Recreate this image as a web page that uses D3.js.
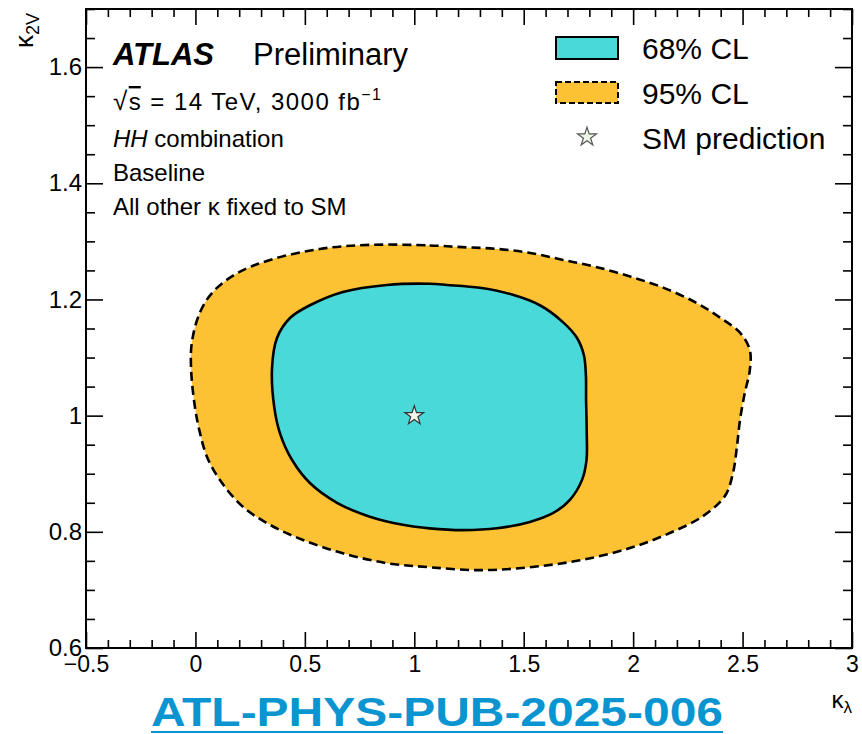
<!DOCTYPE html>
<html lang="en">
<head>
<meta charset="UTF-8">
<title>kappa2V vs kappa lambda</title>
<script src="https://d3js.org/d3.v7.min.js"></script>
<style>
  body { margin: 0; background: #fff; }
  svg { display: block; font-family: "Liberation Sans", Arial, Helvetica, sans-serif; }
  .tick text { font-family: "Liberation Sans", Arial, Helvetica, sans-serif; fill: #000; }
</style>
</head>
<body>
<div id="chart"></div>
<script>
// values
var xTicks = [-0.5, 0, 0.5, 1, 1.5, 2, 2.5, 3]
var xTickLabels = ['\u22120.5', '0', '0.5', '1', '1.5', '2', '2.5', '3']
var yTicks = [0.6, 0.8, 1, 1.2, 1.4, 1.6]
var yTickLabels = ['0.6', '0.8', '1', '1.2', '1.4', '1.6']

// 68% CL contour (kappa_lambda, kappa_2V)
var cl68 = [[0.875, 1.225], [1.07, 1.227], [1.15, 1.225], [1.30, 1.220], [1.45, 1.208], [1.574, 1.190],
  [1.679, 1.161], [1.743, 1.134], [1.775, 1.104], [1.784, 1.070], [1.785, 1.027], [1.788, 0.970],
  [1.787, 0.924], [1.766, 0.889], [1.711, 0.855], [1.633, 0.832], [1.528, 0.817], [1.378, 0.806],
  [1.222, 0.803], [1.07, 0.806], [0.948, 0.812], [0.797, 0.826], [0.647, 0.850], [0.523, 0.884],
  [0.441, 0.924], [0.386, 0.970], [0.36, 1.015], [0.35, 1.082], [0.373, 1.134], [0.432, 1.168],
  [0.523, 1.190], [0.674, 1.213]]

// 95% CL contour
var cl95 = [[0.797, 1.294], [1.07, 1.293], [1.22, 1.290], [1.38, 1.287], [1.53, 1.280], [1.68, 1.268],
  [1.83, 1.256], [1.99, 1.239], [2.14, 1.220], [2.29, 1.194], [2.40, 1.168], [2.49, 1.142],
  [2.533, 1.113], [2.533, 1.078], [2.51, 1.039], [2.488, 0.992], [2.474, 0.946], [2.456, 0.901],
  [2.42, 0.862], [2.319, 0.827], [2.168, 0.798], [1.985, 0.772], [1.757, 0.751], [1.528, 0.739],
  [1.30, 0.734], [1.07, 0.739], [0.875, 0.746], [0.674, 0.763], [0.491, 0.786], [0.341, 0.812],
  [0.217, 0.843], [0.112, 0.889], [0.053, 0.929], [0.021, 0.970], [-0.002, 1.014], [-0.02, 1.082],
  [-0.016, 1.127], [0.021, 1.178], [0.080, 1.213], [0.190, 1.245], [0.341, 1.268], [0.569, 1.287]]

var smPoint = [1, 1]
var legendLabels = ['68% CL', '95% CL', 'SM prediction']
var infoLines = ['HH combination', 'Baseline', 'All other \u03ba fixed to SM']

var cyan = '#4ad9d9', orange = '#fdc233'
var W = 862, H = 734
var pL = 86, pR = 852, pT = 9, pB = 648

var svg = d3.select('#chart').append('svg')
  .attr('width', W)
  .attr('height', H)

var x = d3.scaleLinear().domain([-0.5, 3]).range([pL, pR])
var y = d3.scaleLinear().domain([0.6, 1.7]).range([pB, pT])

var line = d3.line()
  .x(d => x(d[0]))
  .y(d => y(d[1]))
  .curve(d3.curveCatmullRomClosed.alpha(0.5))

// contours
svg.append('path')
  .attr('d', line(cl95))
  .attr('fill', orange)
  .attr('stroke', '#000')
  .attr('stroke-width', 2.6)
  .attr('stroke-dasharray', '9,5')

svg.append('path')
  .attr('d', line(cl68))
  .attr('fill', cyan)
  .attr('stroke', '#000')
  .attr('stroke-width', 2.6)

var star = d3.symbol().type(d3.symbolStar).size(110)

svg.append('path')
  .attr('d', star())
  .attr('transform', 'translate(' + x(smPoint[0]) + ',' + y(smPoint[1]) + ')')
  .attr('fill', '#f3f5ec')
  .attr('stroke', '#333')
  .attr('stroke-width', 1.2)

// minor ticks
var xMinor = d3.range(-0.5, 3.0001, 0.1).filter(v => Math.abs(v * 2 - Math.round(v * 2)) > 1e-6)
var yMinor = d3.range(0.6, 1.7001, 0.05).filter(v => Math.abs(v * 5 - Math.round(v * 5)) > 1e-6)

function clean(g) {
  g.select('.domain').remove()
  g.selectAll('line').attr('stroke', '#000').attr('stroke-width', 1.6)
}

svg.append('g').attr('transform', 'translate(0,' + pB + ')')
  .call(d3.axisBottom(x).tickValues(xTicks).tickSize(-16).tickPadding(8)
    .tickFormat((d, i) => xTickLabels[i]))
  .call(clean)
  .selectAll('text').attr('font-size', 23)

svg.append('g').attr('transform', 'translate(0,' + pB + ')')
  .call(d3.axisBottom(x).tickValues(xMinor).tickSize(-8).tickFormat(''))
  .call(clean)

svg.append('g').attr('transform', 'translate(0,' + pT + ')')
  .call(d3.axisTop(x).tickValues(xTicks).tickSize(-16).tickFormat(''))
  .call(clean)

svg.append('g').attr('transform', 'translate(0,' + pT + ')')
  .call(d3.axisTop(x).tickValues(xMinor).tickSize(-8).tickFormat(''))
  .call(clean)

svg.append('g').attr('transform', 'translate(' + pL + ',0)')
  .call(d3.axisLeft(y).tickValues(yTicks).tickSize(-17).tickPadding(4)
    .tickFormat((d, i) => yTickLabels[i]))
  .call(clean)
  .selectAll('text').attr('font-size', 24)

svg.append('g').attr('transform', 'translate(' + pL + ',0)')
  .call(d3.axisLeft(y).tickValues(yMinor).tickSize(-9).tickFormat(''))
  .call(clean)

svg.append('g').attr('transform', 'translate(' + pR + ',0)')
  .call(d3.axisRight(y).tickValues(yTicks).tickSize(-17).tickFormat(''))
  .call(clean)

svg.append('g').attr('transform', 'translate(' + pR + ',0)')
  .call(d3.axisRight(y).tickValues(yMinor).tickSize(-9).tickFormat(''))
  .call(clean)

// frame
svg.append('rect')
  .attr('x', pL).attr('y', pT)
  .attr('width', pR - pL).attr('height', pB - pT)
  .attr('fill', 'none')
  .attr('stroke', '#000')
  .attr('stroke-width', 2)

// axis titles
var yt = svg.append('text')
  .attr('transform', 'translate(33,13) rotate(-90)')
  .attr('text-anchor', 'end')
  .attr('font-size', 26)
yt.append('tspan').text('\u03ba')
yt.append('tspan').attr('font-size', 18).attr('dy', 6).text('2V')

var xt = svg.append('text')
  .attr('x', 852).attr('y', 708)
  .attr('text-anchor', 'end')
  .attr('font-size', 24)
xt.append('tspan').text('\u03ba')
xt.append('tspan').attr('font-size', 17).attr('dy', 5).text('\u03bb')

// ATLAS label
svg.append('text')
  .attr('x', 113).attr('y', 65)
  .attr('font-size', 31)
  .attr('font-weight', 'bold')
  .attr('font-style', 'italic')
  .text('ATLAS')

svg.append('text')
  .attr('x', 253).attr('y', 65)
  .attr('font-size', 31)
  .text('Preliminary')

var rs = svg.append('text')
  .attr('x', 113).attr('y', 110)
  .attr('font-size', 24)
  .attr('textLength', 268)
  .attr('lengthAdjust', 'spacing')
rs.append('tspan').attr('font-size', 26).text('\u221a')
rs.append('tspan').style('text-decoration', 'overline').text('s')
rs.append('tspan').text(' = 14 TeV, 3000 fb')
rs.append('tspan').attr('font-size', 16).attr('dy', -10).text('\u22121')

svg.selectAll('.info')
  .data(infoLines)
  .enter()
  .append('text')
  .attr('class', 'info')
  .attr('x', 113)
  .attr('y', (d, i) => 147 + i * 34)
  .attr('font-size', 24)
  .each(function (d, i) {
    var t = d3.select(this)
    if (i === 0) {
      t.append('tspan').attr('font-style', 'italic').text('HH')
      t.append('tspan').text(' combination')
    } else {
      t.text(d)
    }
  })

// legend
var lg = svg.append('g')
lg.append('rect')
  .attr('x', 556).attr('y', 37).attr('width', 62).attr('height', 22)
  .attr('fill', cyan).attr('stroke', '#000').attr('stroke-width', 2)
lg.append('rect')
  .attr('x', 556).attr('y', 82).attr('width', 62).attr('height', 21)
  .attr('fill', orange).attr('stroke', '#000').attr('stroke-width', 2)
  .attr('stroke-dasharray', '6,3')
lg.append('path')
  .attr('d', star())
  .attr('transform', 'translate(587,137)')
  .attr('fill', '#eef5e6')
  .attr('stroke', '#555')
  .attr('stroke-width', 1.2)

lg.selectAll('text')
  .data(legendLabels)
  .enter()
  .append('text')
  .attr('x', 642)
  .attr('y', (d, i) => 59 + i * 45)
  .attr('font-size', 30)
  .text(d => d)

// reference tag
svg.append('text')
  .attr('x', 437).attr('y', 726)
  .attr('text-anchor', 'middle')
  .attr('font-size', 41)
  .attr('font-weight', 'bold')
  .attr('fill', '#0b95d0')
  .attr('textLength', 572)
  .attr('lengthAdjust', 'spacingAndGlyphs')
  .text('ATL-PHYS-PUB-2025-006')

svg.append('line')
  .attr('x1', 151).attr('x2', 723)
  .attr('y1', 732).attr('y2', 732)
  .attr('stroke', '#0b95d0')
  .attr('stroke-width', 2)
</script>
</body>
</html>
